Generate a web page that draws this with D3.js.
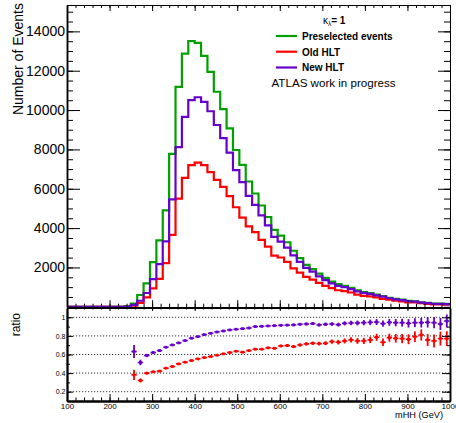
<!DOCTYPE html>
<html><head><meta charset="utf-8">
<script src="https://cdn.jsdelivr.net/npm/d3@7"></script>
<style>
body{margin:0;background:#fff}
svg{display:block}
text{font-family:'Liberation Sans',Arial,Helvetica,sans-serif;fill:#000}
</style>
</head><body>
<svg id="c" width="456" height="423"></svg>
<script>
// ---- binning (mHH, GeV) ----
const binLow = 100, binWidth = 15, nBins = 60;

// ---- series values (events per bin) ----
const preselected = [0,0,0,0,0,0,0,0,0,30,
  160,600,1190,2270,3380,4900,7770,11180,12870,13510,
  13410,12750,11940,10930,10050,9070,7970,7215,6370,5760,
  5150,4565,3910,3620,3280,2850,2470,2130,1920,1690,
  1470,1280,1150,1070,960,830,750,700,615,550,
  460,400,360,300,280,230,200,165,160,145];
const oldHLT = [0,0,0,0,0,0,0,0,0,0,
  61,193,475,940,1423,2220,3660,5500,6550,7200,
  7330,7200,6850,6450,6100,5630,5060,4530,4090,3800,
  3400,3060,2600,2505,2283,1952,1736,1521,1384,1212,
  1060,946,842,798,727,619,560,530,483,403,
  359,310,278,229,222,186,151,123,123,112];
const newHLT = [0,0,0,0,0,0,0,0,0,0,
  101,308,701,1410,2170,3322,5462,8120,9650,10500,
  10650,10420,9940,9240,8573,7836,6942,6335,5637,5184,
  4650,4140,3558,3309,3004,2616,2285,1977,1789,1551,
  1360,1188,1059,1000,901,779,707,662,584,513,
  435,377,339,281,264,217,189,155,148,139];

// ---- ratio panel values ----
const ratioOld = [null,null,null,null,null,null,null,null,null,null,
  .382,.321,.399,.414,.421,.453,.471,.499,.517,.535,
  .553,.567,.578,.592,.607,.621,.635,.625,.642,.657,
  .657,.671,.667,.692,.696,.685,.703,.714,.721,.717,
  .721,.739,.732,.746,.757,.746,.746,.757,.785,.732,
  .781,.774,.771,.764,.792,.810,.757,.746,.771,.771];
const ratioNew = [null,null,null,null,null,null,null,null,null,null,
  .632,.514,.589,.621,.642,.678,.703,.725,.750,.775,
  .792,.814,.828,.842,.853,.864,.871,.878,.885,.900,
  .903,.907,.910,.914,.916,.918,.925,.928,.932,.918,
  .925,.928,.921,.935,.939,.939,.942,.946,.949,.932,
  .946,.942,.942,.935,.942,.942,.946,.942,.928,.960];
const errOld = [null,null,null,null,null,null,null,null,null,null,
  .055,.022,.014,.011,.009,.008,.007,.006,.006,.006,
  .006,.006,.006,.006,.007,.007,.008,.008,.009,.010,
  .010,.011,.012,.013,.014,.015,.016,.017,.018,.020,
  .021,.023,.025,.027,.029,.031,.033,.035,.038,.040,
  .043,.046,.050,.053,.057,.060,.065,.070,.075,.080];
const errNew = [null,null,null,null,null,null,null,null,null,null,
  .070,.030,.018,.013,.011,.009,.008,.007,.006,.006,
  .006,.006,.006,.006,.006,.007,.007,.008,.008,.009,
  .009,.010,.010,.011,.012,.013,.014,.015,.016,.017,
  .018,.020,.021,.022,.024,.026,.028,.030,.032,.034,
  .037,.040,.042,.045,.048,.052,.056,.060,.065,.070];

// ---- ticks ----
const yTicksTop = [2000,4000,6000,8000,10000,12000,14000];
const yMinorTop = d3.range(0,15500,500);
const xTicks = [100,200,300,400,500,600,700,800,900,1000];
const xMinor = d3.range(100,1001,20);
const rTicks = [0.2,0.4,0.6,0.8,1.0];
const rMinor = [0.1,0.2,0.3,0.4,0.5,0.6,0.7,0.8,0.9,1.0,1.1];

const colors = {pre:"#00a000", old:"#ff0000", neu:"#6600cc"};

// ---- layout ----
const L=67, R=450, T=5, B1=306.8, T2=308, B2=401;
const svg = d3.select("#c");
svg.append("rect").attr("width",456).attr("height",423).attr("fill","#fff");

const x = d3.scaleLinear().domain([100,1000]).range([L,R]);
const y = d3.scaleLinear().domain([0,15340]).range([B1,T]);
const yr = d3.scaleLinear().domain([0.1,1.1]).range([B2,T2]);

const edges = d3.range(nBins).map(i => binLow + i*binWidth);

svg.append("clipPath").attr("id","clipTop").append("rect")
  .attr("x",L).attr("y",T).attr("width",R-L).attr("height",B1-T+1);
svg.append("clipPath").attr("id","clipBot").append("rect")
  .attr("x",L).attr("y",T2).attr("width",R-L).attr("height",B2-T2);

// ---- histograms ----
const line = d3.line().x(d=>x(d[0])).y(d=>y(d[1])).curve(d3.curveStepAfter);
function hist(vals,color){
  const pts = edges.map((e,i)=>[e,vals[i]]);
  pts.push([binLow+nBins*binWidth, vals[nBins-1]]);
  svg.append("path").attr("clip-path","url(#clipTop)")
    .attr("d",line(pts)).attr("fill","none").attr("stroke",color)
    .attr("stroke-width",2.2).attr("stroke-linejoin","miter");
}
hist(preselected, colors.pre);
hist(oldHLT, colors.old);
hist(newHLT, colors.neu);

// ---- top panel axes ----
function ax(g, axis, w){
  g.call(axis);
  g.select(".domain").attr("stroke","#000").attr("stroke-width",w||1);
  g.selectAll(".tick line").attr("stroke","#000").attr("stroke-width",1);
  return g;
}
// left
ax(svg.append("g").attr("transform",`translate(${L},0)`),
  d3.axisLeft(y).tickValues(yMinorTop).tickSizeInner(-6).tickSizeOuter(0).tickFormat(""),1.5);
const gl = ax(svg.append("g").attr("transform",`translate(${L},0)`),
  d3.axisLeft(y).tickValues(yTicksTop).tickSizeInner(-13).tickSizeOuter(0).tickPadding(2).tickFormat(d3.format("d")),1.5);
gl.selectAll("text").attr("font-size",14).style("font-family","'Liberation Sans',Arial,sans-serif");
// right
ax(svg.append("g").attr("transform",`translate(${R},0)`),
  d3.axisRight(y).tickValues(yMinorTop).tickSizeInner(-6).tickSizeOuter(0).tickFormat(""),1);
ax(svg.append("g").attr("transform",`translate(${R},0)`),
  d3.axisRight(y).tickValues(yTicksTop).tickSizeInner(-12).tickSizeOuter(0).tickFormat(""),1);
// top
ax(svg.append("g").attr("transform",`translate(0,${T})`),
  d3.axisTop(x).tickValues(xMinor).tickSizeInner(-3).tickSizeOuter(0).tickFormat(""),1);
ax(svg.append("g").attr("transform",`translate(0,${T})`),
  d3.axisTop(x).tickValues(xTicks).tickSizeInner(-6).tickSizeOuter(0).tickFormat(""),1);
// bottom of top panel
ax(svg.append("g").attr("transform",`translate(0,${B1+0.4})`),
  d3.axisBottom(x).tickValues(xMinor).tickSizeInner(-3.5).tickSizeOuter(0).tickFormat(""),1.5);
ax(svg.append("g").attr("transform",`translate(0,${B1+0.4})`),
  d3.axisBottom(x).tickValues(xTicks).tickSizeInner(-7).tickSizeOuter(0).tickFormat(""),1.5);

svg.append("text").attr("transform","translate(23,3) rotate(-90)")
  .attr("text-anchor","end").attr("font-size",14).text("Number of Events");

// ---- legend ----
const leg = [["Preselected events",colors.pre,36],["Old HLT",colors.old,51.7],["New HLT",colors.neu,67.5]];
leg.forEach(([lab,c,yy])=>{
  svg.append("line").attr("x1",276).attr("x2",297).attr("y1",yy).attr("y2",yy)
    .attr("stroke",c).attr("stroke-width",2.2);
  svg.append("text").attr("x",302).attr("y",yy+3.8).attr("font-size",10)
    .attr("font-weight","bold").text(lab);
});
const kt = svg.append("text").attr("x",323).attr("y",24).attr("font-size",10);
kt.append("tspan").text("κ");
kt.append("tspan").attr("font-size",6.5).attr("dy",2).text("λ");
kt.append("tspan").attr("dy",-2).attr("font-weight","bold").text("= 1");
svg.append("text").attr("x",271.5).attr("y",87.3).attr("font-size",11.6).text("ATLAS work in progress");

// ---- ratio panel ----
svg.append("g").selectAll("line").data(rTicks).join("line")
  .attr("x1",L).attr("x2",R).attr("y1",d=>yr(d)).attr("y2",d=>yr(d))
  .attr("stroke","#000").attr("stroke-width",0.8).attr("stroke-dasharray","1.2,1.8");

const gp = svg.append("g").attr("clip-path","url(#clipBot)");
function ratioPts(vals, errs, color){
  vals.forEach((r,i)=>{
    if(r==null || r<0.1) return;
    const cx = x(edges[i]+binWidth/2);
    gp.append("line").attr("x1",x(edges[i])+0.5).attr("x2",x(edges[i]+binWidth)-0.5)
      .attr("y1",yr(r)).attr("y2",yr(r)).attr("stroke",color).attr("stroke-width",1.6);
    gp.append("line").attr("x1",cx).attr("x2",cx)
      .attr("y1",yr(r-errs[i])).attr("y2",yr(r+errs[i])).attr("stroke",color).attr("stroke-width",1.8);
    gp.append("rect").attr("x",cx-1.4).attr("y",yr(r)-1.4).attr("width",2.8).attr("height",2.8)
      .attr("fill",color);
  });
}
ratioPts(ratioOld, errOld, colors.old);
ratioPts(ratioNew, errNew, colors.neu);

// ratio axes
const rfmt = d => d===1 ? "1" : d3.format(".1f")(d);
ax(svg.append("g").attr("transform",`translate(${L},0)`),
  d3.axisLeft(yr).tickValues(rMinor).tickSizeInner(-3).tickSizeOuter(0).tickFormat(""),1.8);
const grl = ax(svg.append("g").attr("transform",`translate(${L},0)`),
  d3.axisLeft(yr).tickValues(rTicks).tickSizeInner(-6).tickSizeOuter(0).tickPadding(1.5).tickFormat(rfmt),1.8);
grl.selectAll("text").attr("font-size",7);
ax(svg.append("g").attr("transform",`translate(${R},0)`),
  d3.axisRight(yr).tickValues(rMinor).tickSizeInner(-3).tickSizeOuter(0).tickFormat(""),1.5);
ax(svg.append("g").attr("transform",`translate(${R},0)`),
  d3.axisRight(yr).tickValues(rTicks).tickSizeInner(-8).tickSizeOuter(0).tickFormat(""),1.5);
ax(svg.append("g").attr("transform",`translate(0,${T2})`),
  d3.axisTop(x).tickValues(xMinor).tickSizeInner(-1.5).tickSizeOuter(0).tickFormat(""),1);
ax(svg.append("g").attr("transform",`translate(0,${T2})`),
  d3.axisTop(x).tickValues(xTicks).tickSizeInner(-3).tickSizeOuter(0).tickFormat(""),1);
ax(svg.append("g").attr("transform",`translate(0,${B2})`),
  d3.axisBottom(x).tickValues(xMinor).tickSizeInner(-3.5).tickSizeOuter(0).tickFormat(""),2);
const gxb = ax(svg.append("g").attr("transform",`translate(0,${B2})`),
  d3.axisBottom(x).tickValues(xTicks).tickSizeInner(-7).tickSizeOuter(0).tickPadding(2.5).tickFormat(d3.format("d")),2);
gxb.selectAll("text").attr("font-size",8);

svg.append("text").attr("transform","translate(20,313) rotate(-90)")
  .attr("text-anchor","end").attr("font-size",12).text("ratio");
svg.append("text").attr("x",443).attr("y",418).attr("text-anchor","end")
  .attr("font-size",9.2).text("mHH (GeV)");
</script>
</body></html>
